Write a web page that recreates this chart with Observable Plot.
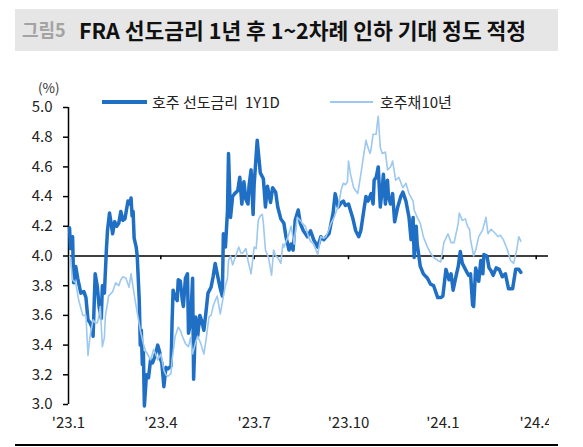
<!DOCTYPE html>
<html>
<head>
<meta charset="utf-8">
<script src="https://cdn.jsdelivr.net/npm/d3@7"></script>
<script src="https://cdn.jsdelivr.net/npm/@observablehq/plot@0.6"></script>
<style>
  body { margin: 0; background: #fff; }
  #wrap { position: relative; width: 583px; height: 447px; overflow: hidden; font-family: "Noto Sans CJK KR", "Noto Sans", sans-serif; color: #222; }
  #title { position: absolute; left: 15px; top: 9px; width: 543px; height: 42px; background: #e6e6e6; }
  #title .fig { position: absolute; left: 7px; top: 50%; transform: translateY(-53%); font-size: 18px; font-weight: 700; color: #a3a3a3; white-space: nowrap; }
  #title .main { position: absolute; left: 64px; top: 50%; transform: translateY(-53%); font-size: 21.5px; font-weight: 700; color: #111; white-space: nowrap; }
  #chart { position: absolute; left: 0; top: 60px; }
  .unit { position: absolute; left: 38px; top: 81px; font-size: 13.5px; line-height: 1; color: #333; }
  .leg-line { position: absolute; }
  .leg-text { position: absolute; font-size: 15px; color: #222; white-space: pre; line-height: 1; }
  #bottomline { position: absolute; left: 15px; top: 444px; width: 543px; height: 1.5px; background: #000; }
</style>
</head>
<body>
<div id="wrap">
  <div id="title"><span class="fig">그림5</span><span class="main">FRA 선도금리 1년 후 1~2차례 인하 기대 정도 적정</span></div>
  <div class="unit">(%)</div>
  <div class="leg-line" style="left:102px; top:100px; width:45px; height:3.5px; background:#1f6fc5;"></div>
  <div class="leg-text" style="left:152px; top:94px;">호주 선도금리  1Y1D</div>
  <div class="leg-line" style="left:330px; top:101px; width:43px; height:1.5px; background:#9dc8ef;"></div>
  <div class="leg-text" style="left:380px; top:94px;">호주채10년</div>
  <div id="chart"></div>
  <div id="bottomline"></div>
</div>
<script>
// ---- Data ----
const seriesNames = ["호주 선도금리  1Y1D", "호주채10년"];

const fraDates = [
"2023-01-02","2023-01-03","2023-01-05","2023-01-06","2023-01-08","2023-01-10","2023-01-13","2023-01-16","2023-01-18","2023-01-20",
"2023-01-22","2023-01-24","2023-01-25","2023-01-27","2023-01-29","2023-01-31","2023-02-02","2023-02-03","2023-02-05","2023-02-07",
"2023-02-08","2023-02-10","2023-02-12","2023-02-13","2023-02-15","2023-02-17","2023-02-19","2023-02-21","2023-02-23","2023-02-25",
"2023-02-28","2023-03-02","2023-03-03","2023-03-04","2023-03-05","2023-03-06","2023-03-08","2023-03-09","2023-03-11","2023-03-12",
"2023-03-13","2023-03-14","2023-03-15","2023-03-16","2023-03-18","2023-03-20","2023-03-22","2023-03-24","2023-03-26","2023-03-29",
"2023-03-31","2023-04-01","2023-04-02","2023-04-04","2023-04-06","2023-04-08","2023-04-11","2023-04-12","2023-04-13","2023-04-15",
"2023-04-17","2023-04-18","2023-04-20","2023-04-22","2023-04-23","2023-04-25","2023-04-27","2023-04-28","2023-04-30","2023-05-02",
"2023-05-03","2023-05-05","2023-05-07","2023-05-09","2023-05-11","2023-05-13","2023-05-15","2023-05-17","2023-05-20","2023-05-22",
"2023-05-24","2023-05-26","2023-05-29","2023-05-31","2023-06-01","2023-06-03","2023-06-05","2023-06-06","2023-06-08","2023-06-10",
"2023-06-12","2023-06-15","2023-06-17","2023-06-19","2023-06-21","2023-06-23","2023-06-25","2023-06-26","2023-06-28","2023-06-30",
"2023-07-01","2023-07-04","2023-07-07","2023-07-10","2023-07-12","2023-07-14","2023-07-17","2023-07-19","2023-07-22","2023-07-24",
"2023-07-27","2023-07-30","2023-08-01","2023-08-04","2023-08-06","2023-08-08","2023-08-10","2023-08-13","2023-08-15","2023-08-18",
"2023-08-22","2023-08-25","2023-08-28","2023-09-01","2023-09-04","2023-09-07","2023-09-12","2023-09-16","2023-09-18","2023-09-21",
"2023-09-24","2023-09-26","2023-09-28","2023-10-01","2023-10-05","2023-10-08","2023-10-11","2023-10-13","2023-10-16","2023-10-18",
"2023-10-20","2023-10-23","2023-10-25","2023-10-26","2023-10-28","2023-10-30","2023-11-01","2023-11-03","2023-11-04","2023-11-06",
"2023-11-08","2023-11-09","2023-11-11","2023-11-13","2023-11-15","2023-11-18","2023-11-21","2023-11-23","2023-11-26","2023-11-29",
"2023-12-01","2023-12-03","2023-12-04","2023-12-06","2023-12-07","2023-12-10","2023-12-13","2023-12-17","2023-12-20","2023-12-23",
"2023-12-27","2023-12-30","2024-01-01","2024-01-04","2024-01-07","2024-01-09","2024-01-11","2024-01-14","2024-01-16","2024-01-18",
"2024-01-20","2024-01-23","2024-01-26","2024-01-28","2024-01-30","2024-01-31","2024-02-02","2024-02-05","2024-02-07","2024-02-09",
"2024-02-10","2024-02-13","2024-02-15","2024-02-17","2024-02-19","2024-02-22","2024-02-25","2024-02-28","2024-03-02","2024-03-05",
"2024-03-09","2024-03-12","2024-03-15","2024-03-17"
];
const fraValues = [
4.19,4.05,4.13,3.82,3.93,3.85,3.75,3.76,3.72,3.57,
3.55,3.52,3.46,3.88,3.80,3.65,3.58,3.80,3.75,4.05,
4.17,4.29,4.20,4.15,4.23,4.20,4.22,4.30,4.24,4.25,
4.37,4.35,4.39,4.27,4.30,4.12,4.06,4.00,3.70,3.40,
3.50,3.27,3.35,2.99,3.20,3.18,3.30,3.28,3.32,3.40,
3.35,3.30,3.28,3.12,3.25,3.24,3.26,3.56,3.77,3.72,
3.70,3.84,3.83,3.70,3.66,3.85,3.88,3.48,3.55,3.85,
3.17,3.59,3.46,3.60,3.56,3.50,3.62,3.75,3.79,3.86,
3.95,3.88,3.78,3.73,4.15,4.06,4.30,4.69,4.26,4.40,
4.42,4.44,4.53,4.35,4.50,4.38,4.35,4.47,4.58,4.28,
4.48,4.78,4.56,4.52,4.33,4.47,4.36,4.46,4.43,4.33,
4.25,4.22,4.13,4.04,4.08,4.04,4.24,4.31,4.22,4.17,
4.13,4.17,4.11,4.06,4.13,4.11,4.15,4.29,4.42,4.33,
4.36,4.37,4.34,4.35,4.26,4.17,4.13,4.17,4.31,4.40,
4.37,4.42,4.35,4.51,4.53,4.60,4.33,4.46,4.55,4.35,
4.51,4.40,4.35,4.42,4.23,4.33,4.40,4.43,4.37,4.26,
4.11,4.26,3.99,4.20,4.08,3.93,3.88,3.85,3.81,3.80,
3.72,3.72,3.73,3.91,3.84,3.88,3.77,3.87,3.93,4.03,
3.95,3.91,3.87,3.88,3.67,3.66,3.92,3.83,3.97,3.88,
4.01,4.00,3.92,3.90,3.87,3.92,3.91,3.86,3.88,3.78,
3.78,3.91,3.91,3.89
];

const bondDates = [
"2023-01-02","2023-01-03","2023-01-05","2023-01-08","2023-01-11","2023-01-13","2023-01-15","2023-01-18","2023-01-20","2023-01-22",
"2023-01-25","2023-01-27","2023-01-29","2023-01-30","2023-02-01","2023-02-03","2023-02-05","2023-02-06","2023-02-08","2023-02-09",
"2023-02-13","2023-02-16","2023-02-19","2023-02-21","2023-02-23","2023-02-26","2023-03-01","2023-03-03","2023-03-05","2023-03-07",
"2023-03-09","2023-03-12","2023-03-15","2023-03-17","2023-03-19","2023-03-22","2023-03-25","2023-03-27","2023-03-29","2023-04-01",
"2023-04-04","2023-04-06","2023-04-08","2023-04-11","2023-04-12","2023-04-15","2023-04-18","2023-04-20","2023-04-22","2023-04-25",
"2023-04-28","2023-04-30","2023-05-02","2023-05-05","2023-05-07","2023-05-10","2023-05-13","2023-05-15","2023-05-18","2023-05-20",
"2023-05-22","2023-05-24","2023-05-26","2023-05-29","2023-06-01","2023-06-03","2023-06-05","2023-06-06","2023-06-08","2023-06-10",
"2023-06-13","2023-06-16","2023-06-18","2023-06-20","2023-06-23","2023-06-25","2023-06-28","2023-07-01","2023-07-03","2023-07-05",
"2023-07-07","2023-07-09","2023-07-10","2023-07-12","2023-07-15","2023-07-18","2023-07-20","2023-07-22","2023-07-24","2023-07-27",
"2023-07-29","2023-07-30","2023-08-03","2023-08-06","2023-08-09","2023-08-10","2023-08-12","2023-08-15","2023-08-17","2023-08-20",
"2023-08-23","2023-08-25","2023-08-28","2023-09-01","2023-09-04","2023-09-07","2023-09-09","2023-09-12","2023-09-14","2023-09-17",
"2023-09-19","2023-09-21","2023-09-24","2023-09-26","2023-09-28","2023-09-30","2023-10-01","2023-10-03","2023-10-06","2023-10-10",
"2023-10-13","2023-10-16","2023-10-18","2023-10-20","2023-10-22","2023-10-23","2023-10-25","2023-10-28","2023-10-29","2023-10-30",
"2023-11-01","2023-11-03","2023-11-06","2023-11-08","2023-11-11","2023-11-13","2023-11-16","2023-11-19","2023-11-23","2023-11-26",
"2023-11-29","2023-12-03","2023-12-04","2023-12-07","2023-12-10","2023-12-13","2023-12-17","2023-12-20","2023-12-23","2023-12-27",
"2023-12-30","2024-01-02","2024-01-06","2024-01-09","2024-01-12","2024-01-16","2024-01-17","2024-01-20","2024-01-23","2024-01-25",
"2024-01-27","2024-01-28","2024-01-31","2024-02-02","2024-02-05","2024-02-09","2024-02-12","2024-02-14","2024-02-17","2024-02-20",
"2024-02-24","2024-02-26","2024-02-29","2024-03-04","2024-03-07","2024-03-10","2024-03-13","2024-03-15","2024-03-17"
];
const bondValues = [
4.00,3.97,3.84,3.82,3.70,3.65,3.60,3.60,3.33,3.46,
3.57,3.55,3.55,3.57,3.66,3.39,3.45,3.60,3.68,3.73,
3.76,3.82,3.80,3.84,3.86,3.85,3.79,3.88,3.79,3.70,
3.62,3.50,3.41,3.36,3.34,3.30,3.37,3.34,3.30,3.34,
3.23,3.20,3.19,3.21,3.30,3.46,3.52,3.50,3.46,3.41,
3.39,3.45,3.34,3.42,3.46,3.41,3.34,3.43,3.59,3.60,
3.66,3.70,3.73,3.61,3.73,3.80,3.85,3.97,4.00,3.94,
4.00,4.06,4.02,4.02,4.05,3.97,3.88,4.06,4.05,4.24,
4.27,4.28,4.22,4.04,3.99,3.87,4.04,4.00,3.99,3.95,
4.08,4.06,4.13,4.20,4.08,4.15,4.26,4.24,4.22,4.20,
4.13,4.10,4.08,4.01,4.13,4.12,4.13,4.18,4.22,4.26,
4.30,4.33,4.45,4.49,4.48,4.50,4.64,4.55,4.46,4.42,
4.55,4.69,4.78,4.73,4.69,4.72,4.82,4.82,4.89,4.94,
4.73,4.69,4.70,4.58,4.60,4.64,4.51,4.53,4.46,4.49,
4.42,4.37,4.31,4.26,4.22,4.13,4.06,4.02,3.99,3.97,
3.96,4.09,4.15,4.09,4.09,4.22,4.29,4.24,4.25,4.20,
4.18,4.11,4.00,4.04,4.13,4.18,4.26,4.15,4.18,4.16,
4.13,4.14,4.11,4.04,3.97,3.95,4.04,4.13,4.10
];

const xDomain = ["2023-01-01", "2024-04-13"];
const quarterDates = ["2023-01-01", "2023-04-01", "2023-07-01", "2023-10-01", "2024-01-01", "2024-04-01"];
const quarterLabels = ["'23.1", "'23.4", "'23.7", "'23.10", "'24.1", "'24.4"];
const yTicks = [3.0, 3.2, 3.4, 3.6, 3.8, 4.0, 4.2, 4.4, 4.6, 4.8, 5.0];
const yDomain = [3.0, 5.0];
const baseLevel = 4.0;

// ---- Build ----
const fra = fraDates.map((d, i) => ({date: new Date(d), value: fraValues[i]}));
const bond = bondDates.map((d, i) => ({date: new Date(d), value: bondValues[i]}));
const qDates = quarterDates.map(d => new Date(d));
const labelOf = new Map(qDates.map((d, i) => [+d, quarterLabels[i]]));

const chart = Plot.plot({
  width: 549,
  height: 387,
  marginTop: 47,
  marginBottom: 43,
  marginLeft: 68,
  marginRight: 1,
  x: {type: "utc", domain: xDomain.map(d => new Date(d)), label: null},
  y: {domain: yDomain, label: null},
  style: {
    fontFamily: '"Noto Sans CJK KR", "Noto Sans", sans-serif',
    fontSize: "15px",
    color: "#222",
    background: "transparent",
    overflow: "hidden"
  },
  marks: [
    Plot.axisY({ticks: yTicks, tickFormat: d => d.toFixed(1), tickSize: 5, tickPadding: 11, stroke: "#000", strokeWidth: 1.5, label: null}),
    Plot.axisX({ticks: qDates, tickFormat: d => labelOf.get(+d), tickSize: 0, tickPadding: 13, label: null}),
    Plot.ruleX([new Date(xDomain[0])], {stroke: "#000", strokeWidth: 1.5}),
    Plot.ruleY([baseLevel], {stroke: "#000", strokeWidth: 1.5}),
    Plot.ruleX(qDates.slice(1), {y1: baseLevel, y2: baseLevel - 0.025, stroke: "#000", strokeWidth: 1.5}),
    Plot.line(fra, {x: "date", y: "value", stroke: "#1f6fc5", strokeWidth: 3.5}),
    Plot.line(bond, {x: "date", y: "value", stroke: "#9dc8ef", strokeWidth: 1.6})
  ]
});
document.getElementById("chart").appendChild(chart);
</script>
</body>
</html>
